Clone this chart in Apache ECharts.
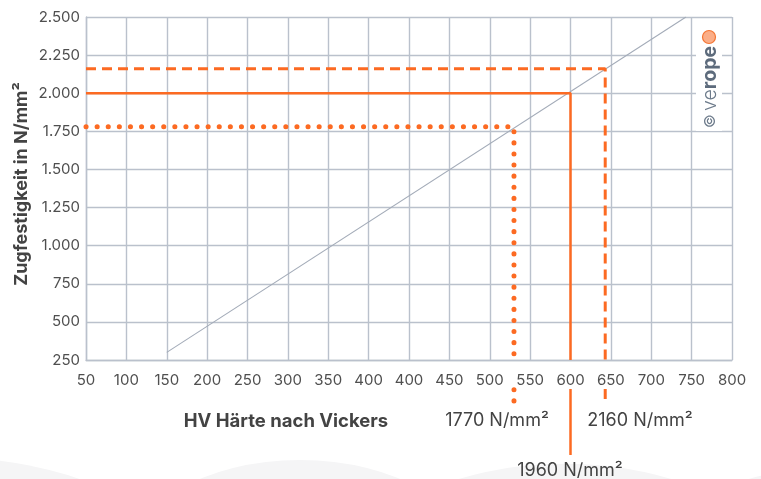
<!DOCTYPE html>
<html>
<head>
<meta charset="utf-8">
<script src="https://cdn.jsdelivr.net/npm/echarts@6/dist/echarts.min.js"></script>
<style>
html,body{margin:0;padding:0;background:#fff;}
#c{width:761px;height:479px;}
</style>
</head>
<body>
<div id="c"></div>
<script>
// Tick labels as printed in the reference (note the repeated "400")
var xTickLabels = ['50','100','150','200','250','300','350','400','400','450','500','550','600','650','700','750','800'];
var yTickValues = [250,500,750,1000,1250,1500,1750,2000,2250,2500];

// Conversion line (x in axis position units, y in N/mm²)
var diagX = [150, 793];
var diagY = [300, 2500];

// Reading guides: [hardness position, tensile strength]
var guideX = [580, 650, 693];
var guideY = [1780, 2000, 2160];
var guideNames = ['1770 N/mm²', '1960 N/mm²', '2160 N/mm²'];
// lower leader segments below the axis labels (y values)
var leaderTop = [55, 60, 60];
var leaderBottom = [-35, -373, -45];

var ORANGE = '#fc6a22';
var GRID = '#bac1cc';
var FONT = 'Inter, "Liberation Sans", Arial, sans-serif';

function fmtDE(v){
  var s = String(Math.round(v));
  return s.replace(/\B(?=(\d{3})+(?!\d))/g, '.');
}

var styles = [
  {type:[0.1, 11], width:5, cap:'round'},
  {type:'solid', width:2.5, cap:'butt'},
  {type:[10, 6], width:3, cap:'butt'}
];

var series = [{
  type:'line', symbol:'none', silent:true, z:2,
  data: diagX.map(function(x,i){return [x, diagY[i]];}),
  lineStyle:{color:'#a3abb8', width:1.1}
}];
for (var i=0;i<guideX.length;i++){
  series.push({
    type:'line', symbol:'none', silent:true, z:3,
    data:[[50, guideY[i]],[guideX[i], guideY[i]],[guideX[i], 250]],
    lineStyle:{color:ORANGE, width:styles[i].width, type:styles[i].type, cap:styles[i].cap}
  });
  series.push({
    type:'line', symbol:'none', silent:true, z:3, clip:false,
    data:[[guideX[i], leaderTop[i]],[guideX[i], leaderBottom[i]]],
    lineStyle:{color:ORANGE, width:styles[i].width, type:styles[i].type, cap:styles[i].cap}
  });
}

var chart = echarts.init(document.getElementById('c'), null, {renderer:'canvas'});
chart.setOption({
  backgroundColor:'#ffffff',
  animation:false,
  grid:{left:86, right:29, top:17, bottom:119, containLabel:false},
  xAxis:{
    type:'value', min:50, max:850, interval:50,
    axisLine:{show:true, lineStyle:{color:GRID, width:1.4}},
    axisTick:{show:false},
    splitLine:{show:true, lineStyle:{color:GRID, width:1.4}},
    axisLabel:{
      color:'#4f4f4f', fontSize:15, fontFamily:FONT, margin:13,
      formatter:function(v){ return xTickLabels[Math.round((v-50)/50)] || ''; }
    }
  },
  yAxis:{
    type:'value', min:yTickValues[0], max:yTickValues[yTickValues.length-1], interval:250,
    axisLine:{show:true, lineStyle:{color:GRID, width:1.4}},
    axisTick:{show:false},
    splitLine:{show:true, lineStyle:{color:GRID, width:1.4}},
    axisLabel:{color:'#4f4f4f', fontSize:15, fontFamily:FONT, margin:6, formatter:fmtDE}
  },
  graphic:[
    {type:'circle', z:-10, shape:{cx:-60, cy:565, r:230}, scaleY:0.47, originX:-60, originY:565, style:{fill:'#f5f5f6'}, silent:true},
    {type:'circle', z:-10, shape:{cx:300, cy:565, r:175}, scaleY:0.6, originX:300, originY:565, style:{fill:'#f5f5f6'}, silent:true},
    {type:'circle', z:-10, shape:{cx:565, cy:575, r:210}, scaleY:0.53, originX:565, originY:575, style:{fill:'#f5f5f6'}, silent:true},
    {type:'circle', z:-10, shape:{cx:820, cy:565, r:160}, scaleY:0.6, originX:820, originY:565, style:{fill:'#f5f5f6'}, silent:true},
    {type:'rect', z:10, shape:{x:696, y:27, width:26, height:104}, style:{fill:'#ffffff'}, silent:true},
    {type:'circle', z:11, shape:{cx:709, cy:37, r:6.5}, style:{fill:'#fbae88', stroke:'#f47534', lineWidth:1.2}, silent:true},
    {type:'text', z:11, x:710, y:87, rotation:Math.PI/2, silent:true,
      style:{text:'{c|©} {v|ve}{r|rope}', align:'center', verticalAlign:'middle',
        rich:{
          c:{fontSize:15, fontFamily:FONT, fill:'#6d7b8b', fontWeight:'normal'},
          v:{fontSize:19.5, fontFamily:FONT, fill:'#6d7b8b', fontWeight:300},
          r:{fontSize:19.5, fontFamily:FONT, fill:'#5d6b7c', fontWeight:'bold'}
        }}},
    {type:'text', x:22, y:184, rotation:Math.PI/2, silent:true,
      style:{text:'Zugfestigkeit in N/mm²', align:'center', verticalAlign:'middle', fill:'#434343', fontSize:18, fontWeight:'bold', fontFamily:FONT}},
    {type:'text', x:286, y:421, silent:true,
      style:{text:'HV Härte nach Vickers', align:'center', verticalAlign:'middle', fill:'#434343', fontSize:18.5, fontWeight:'bold', fontFamily:FONT}},
    {type:'text', x:497, y:421, silent:true,
      style:{text:guideNames[0], align:'center', verticalAlign:'middle', fill:'#434343', fontSize:18, fontFamily:FONT}},
    {type:'text', x:570, y:471, silent:true,
      style:{text:guideNames[1], align:'center', verticalAlign:'middle', fill:'#434343', fontSize:18, fontFamily:FONT}},
    {type:'text', x:640, y:421, silent:true,
      style:{text:guideNames[2], align:'center', verticalAlign:'middle', fill:'#434343', fontSize:18, fontFamily:FONT}}
  ],
  series:series
});
</script>
</body>
</html>
